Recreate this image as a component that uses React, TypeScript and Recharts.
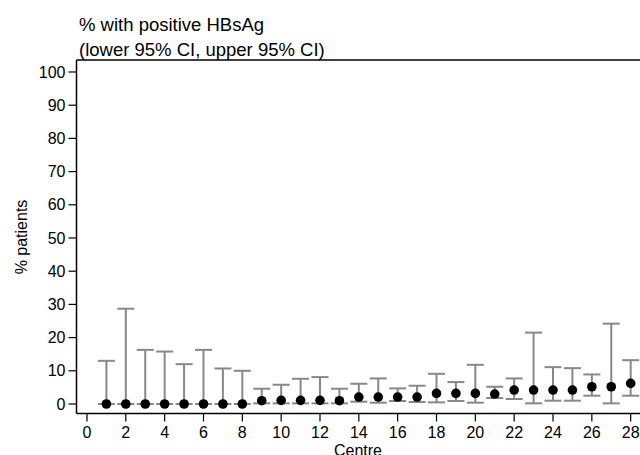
import React from "react";
import {
  ScatterChart,
  Scatter,
  XAxis,
  YAxis,
  ErrorBar,
  ReferenceLine,
} from "recharts";

const centres = [1, 2, 3, 4, 5, 6, 7, 8, 9, 10, 11, 12, 13, 14, 15, 16, 17, 18, 19, 20, 21, 22, 23, 24, 25, 26, 27, 28];
const estimates = [0, 0, 0, 0, 0, 0, 0, 0, 1.0, 1.1, 1.1, 1.1, 1.0, 2.1, 2.1, 2.1, 2.1, 3.2, 3.2, 3.2, 3.0, 4.2, 4.2, 4.2, 4.2, 5.2, 5.2, 6.2];
const lowerCI = [0, 0, 0, 0, 0, 0, 0, 0, 0.2, 0.2, 0.2, 0.2, 0.2, 0.7, 0.4, 0.9, 0.6, 0.5, 0.9, 0.4, 1.8, 1.5, 0.2, 1.0, 1.0, 2.5, 0.2, 2.5];
const upperCI = [13.0, 28.7, 16.3, 15.8, 12.0, 16.3, 10.7, 10.0, 4.6, 5.8, 7.6, 8.1, 4.6, 6.1, 7.7, 4.7, 5.5, 9.1, 6.6, 11.8, 5.2, 7.7, 21.5, 11.1, 10.8, 8.9, 24.2, 13.2];

const xTicks = [0, 2, 4, 6, 8, 10, 12, 14, 16, 18, 20, 22, 24, 26, 28];
const yTicks = [0, 10, 20, 30, 40, 50, 60, 70, 80, 90, 100];

const X_MIN = -0.54;
const X_MAX = 28.48;
const Y_MIN = -2.86;
const Y_MAX = 103.61;

const data = centres.map((c, i) => ({
  centre: c,
  pct: estimates[i],
  err: [estimates[i] - lowerCI[i], upperCI[i] - estimates[i]],
}));

const FONT = '"Liberation Sans", Arial, Helvetica, sans-serif';

const Dot = (props: any) => {
  const { cx, cy } = props;
  if (cx == null || cy == null) return null;
  return <circle cx={cx} cy={cy} r={4.8} fill="#000" />;
};

export default function App() {
  return (
    <div style={{ position: "absolute", left: 0, top: 0, width: 640, height: 455, overflow: "hidden", background: "#fff" }}>
      <ScatterChart
        width={640}
        height={455}
        margin={{ top: 60, right: 0, bottom: 0, left: 0 }}
        style={{ fontFamily: FONT }}
      >
        <XAxis
          type="number"
          dataKey="centre"
          domain={[X_MIN, X_MAX]}
          ticks={xTicks}
          allowDataOverflow
          height={41.5}
          tickSize={8}
          tickMargin={5}
          interval={0}
          axisLine={{ stroke: "#000", strokeWidth: 1.5 }}
          tickLine={{ stroke: "#000", strokeWidth: 1.2 }}
          tick={{ fill: "#000", fontSize: 16, fontFamily: FONT }}
        />
        <YAxis
          type="number"
          dataKey="pct"
          domain={[Y_MIN, Y_MAX]}
          ticks={yTicks}
          allowDataOverflow
          width={76.5}
          tickSize={8}
          tickMargin={3}
          interval={0}
          axisLine={{ stroke: "#000", strokeWidth: 1.5 }}
          tickLine={{ stroke: "#000", strokeWidth: 1.2 }}
          tick={{ fill: "#000", fontSize: 16, fontFamily: FONT }}
        />
        <ReferenceLine y={Y_MAX} stroke="#000" strokeWidth={1.5} ifOverflow="extendDomain" />
        <Scatter data={data} shape={<Dot />} isAnimationActive={false}>
          <ErrorBar dataKey="err" direction="y" width={8.5} stroke="#888888" strokeWidth={2} isAnimationActive={false} />
        </Scatter>
        <text x={79} y={30.5} fontSize={18.5} fontFamily={FONT} fill="#000">
          % with positive HBsAg
        </text>
        <text x={79} y={56} fontSize={18.5} fontFamily={FONT} fill="#000">
          (lower 95% CI, upper 95% CI)
        </text>
        <text
          x={27}
          y={237}
          fontSize={16}
          fontFamily={FONT}
          fill="#000"
          textAnchor="middle"
          transform="rotate(-90 27 237)"
        >
          % patients
        </text>
        <text x={358} y={456} fontSize={16} fontFamily={FONT} fill="#000" textAnchor="middle">
          Centre
        </text>
      </ScatterChart>
    </div>
  );
}
